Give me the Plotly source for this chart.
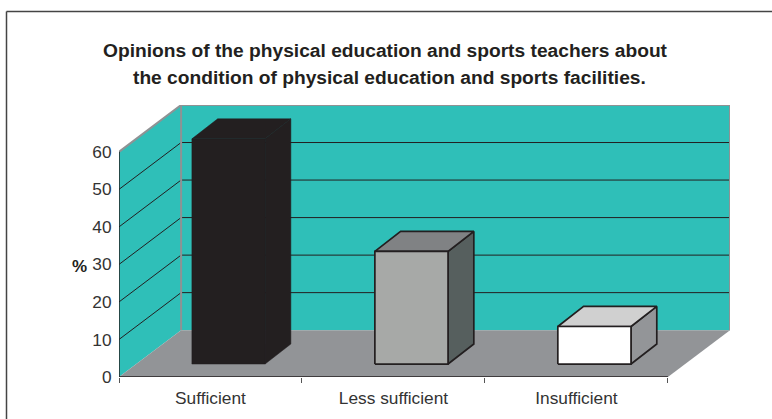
import plotly.graph_objects as go

categories = ["Sufficient", "Less sufficient", "Insufficient"]
percent_values = [60, 30, 10]
y_ticks = [0, 10, 20, 30, 40, 50, 60]
title_lines = ["Opinions of the physical education and sports teachers about",
               "the condition of physical education and sports facilities."]

DX, DY = 0.3394, 12.48      # depth vector in data units
BAR_W = 0.4
D0, D1 = 0.29, 0.705        # bar depth extent
INK = "#231f20"
WALL = "#2fbfb8"
FLOOR = "#929497"
EDGE = "#8f9294"
faces = [("#231f20", "#231f20", "#231f20", 0.5),
         ("#a7a9a7", "#808284", "#565f5e", 1.7),
         ("#ffffff", "#d0d0d0", "#939598", 1.7)]

fig = go.Figure()


def poly(xs, ys, fill=None, line=None, width=1):
    fig.add_trace(go.Scatter(
        x=xs, y=ys, mode="lines", cliponaxis=False, hoverinfo="skip", showlegend=False,
        fill="toself" if fill else None, fillcolor=fill,
        line=dict(color=line or fill, width=width if line else 0)))


n = len(categories)
top = max(y_ticks)
poly([0, DX, DX, 0, 0], [0, DY, top + DY, top, 0], WALL)
poly([DX, n + DX, n + DX, DX, DX], [DY, DY, top + DY, top + DY, DY], WALL)
poly([0, n, n + DX, DX, 0], [0, 0, DY, DY, 0], FLOOR)
for t in y_ticks[1:-1]:
    poly([0, DX, n + DX], [t, t + DY, t + DY], None, INK, 1)
poly([0, DX, n + DX, n + DX], [top, top + DY, top + DY, DY], None, EDGE, 2)
poly([DX, DX], [DY, top + DY], None, EDGE, 2)

for i, v in enumerate(percent_values):
    f, t, s, w = faces[i]
    cx = i + 0.5
    xl = cx - BAR_W / 2 + D0 * DX
    xr = xl + BAR_W
    y0 = 0.277 * DY
    ddx, ddy = (D1 - D0) * DX, (D1 - 0.277) * DY
    poly([xr, xr + ddx, xr + ddx, xr, xr], [y0, y0 + ddy, y0 + v + ddy, y0 + v, y0], s, INK, w)
    poly([xl, xr, xr + ddx, xl + ddx, xl], [y0 + v, y0 + v, y0 + v + ddy, y0 + v + ddy, y0 + v], t, INK, w)
    poly([xl, xr, xr, xl, xl], [y0, y0, y0 + v, y0 + v, y0], f, INK, w)

poly([0, 0], [0, top], None, INK, 1.5)
poly([0, n], [0, 0], None, INK, 1.5)

TICK_FONT = dict(family="Liberation Sans", size=17.3, color="#333333")
fig.update_xaxes(range=[0, n + DX], tickmode="array", automargin=False,
                 tickvals=[i + 0.5 for i in range(n)], ticktext=categories,
                 ticks="outside", ticklen=5, tickcolor="rgba(0,0,0,0)",
                 tickfont=TICK_FONT,
                 showgrid=False, zeroline=False, showline=False,
                 minor=dict(tickmode="array", tickvals=list(range(n + 1)), ticks="outside",
                            ticklen=5, tickwidth=1, tickcolor="#555555", showgrid=False))
fig.update_yaxes(range=[0, top + DY], tickmode="array", automargin=False, tickvals=y_ticks,
                 ticks="outside", ticklen=3, tickwidth=1, tickcolor="rgba(0,0,0,0)",
                 tickfont=TICK_FONT,
                 showgrid=False, zeroline=False, showline=False)

TITLE_FONT = dict(family="Liberation Sans", size=19.2, color=INK, weight="bold")
fig.update_layout(
    width=772, height=419, autosize=False,
    margin=dict(l=119, r=42, t=105, b=42),
    paper_bgcolor="white", plot_bgcolor="white",
    annotations=[
        dict(text=title_lines[0], xref="paper", yref="paper", x=(385.5 - 119) / 611, y=(377 - 50) / 272,
             xanchor="center", yanchor="middle", showarrow=False, font=TITLE_FONT),
        dict(text=title_lines[1], xref="paper", yref="paper", x=(389 - 119) / 611, y=(377 - 78) / 272,
             xanchor="center", yanchor="middle", showarrow=False, font=TITLE_FONT),
        dict(text="%", xref="paper", yref="paper", x=(79 - 119) / 611, y=(377 - 266) / 272,
             xanchor="center", yanchor="middle", showarrow=False,
             font=dict(family="Liberation Sans", size=17, color=INK, weight="bold")),
    ],
    shapes=[
        dict(type="line", xref="paper", yref="paper", x0=(6.5 - 119) / 611, x1=(772 - 119) / 611,
             y0=(377 - 11.5) / 272, y1=(377 - 11.5) / 272, line=dict(color="#444444", width=1.5)),
        dict(type="line", xref="paper", yref="paper", x0=(6.5 - 119) / 611, x1=(6.5 - 119) / 611,
             y0=(377 - 11.5) / 272, y1=(377 - 419) / 272, line=dict(color="#444444", width=1.5)),
    ],
)
fig.write_html("out.html", config=dict(displayModeBar=False),
               post_script="document.body.style.margin='0';document.body.style.overflow='hidden';")
